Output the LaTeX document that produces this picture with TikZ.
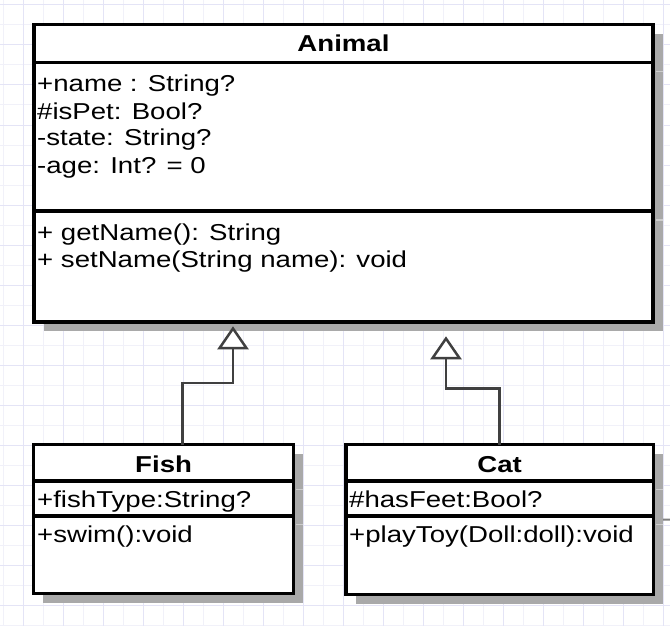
\documentclass[tikz,border=0pt]{standalone}
\usepackage{fontspec}
\setmainfont{Liberation Sans}[FakeStretch=1.2]
\usetikzlibrary{arrows.meta,shadows,calc}
\definecolor{gridminor}{HTML}{F1F1F9}
\definecolor{gridmajor}{HTML}{E4E4F6}
\definecolor{shadowgray}{HTML}{A9A9A9}
\definecolor{shadowline}{HTML}{CDCDCD}
\definecolor{conngray}{HTML}{404040}
\pgfdeclarelayer{bg}
\pgfsetlayers{bg,main}
\tikzset{
  classbox/.style={draw=black, line width=3.5pt, fill=white, anchor=north west, inner sep=0pt, outer sep=0pt,
    drop shadow={shadow xshift=9.5pt, shadow yshift=-9.5pt, fill=shadowgray, opacity=1}},
  sepline/.style={draw=black, line width=3.5pt},
  shline/.style={draw=shadowline, line width=1.5pt},
  txt/.style={anchor=base west, inner sep=0pt, font=\fontsize{23}{27}\selectfont},
  title/.style={anchor=base, inner sep=0pt, font=\fontsize{23}{27}\selectfont\bfseries},
  conn/.style={draw=conngray, line width=2.7pt},
  inherit/.style={conn, -{Triangle[open, fill=white, length=23pt, width=31pt, line width=2.5pt]}},
}
\begin{document}
\begin{tikzpicture}[x=1pt,y=-1pt]
\useasboundingbox (0,0) rectangle (670,626);
% grid
\begin{pgfonlayer}{bg}
\fill[white] (0,0) rectangle (670,626);
\foreach \i in {0,...,33} {
  \pgfmathsetmacro{\gx}{3+20*\i}
  \draw[gridminor, line width=1pt] (\gx,0) -- (\gx,626);
}
\foreach \i in {0,...,31} {
  \pgfmathsetmacro{\gy}{5+20*\i}
  \draw[gridminor, line width=1pt] (0,\gy) -- (670,\gy);
}
\foreach \i in {0,...,16} {
  \pgfmathsetmacro{\gx}{23+40*\i}
  \draw[gridmajor, line width=1pt] (\gx,0) -- (\gx,626);
}
\foreach \i in {0,...,15} {
  \pgfmathsetmacro{\gy}{5+40*\i}
  \draw[gridmajor, line width=1pt] (0,\gy) -- (670,\gy);
}
\end{pgfonlayer}

% Animal
\node[classbox, minimum width=619pt, minimum height=297.5pt] (animal) at (34,24.3) {};
\draw[shline] (655.5,71.5) -- (663,71.5);
\draw[shline] (655.5,220) -- (663,220);
\draw[sepline] (animal.west |- 0,62.5) coordinate (a1) -- (animal.east |- 0,62.5) coordinate (a2);
\draw[sepline] (animal.west |- 0,211) coordinate (a3) -- (animal.east |- 0,211) coordinate (a4);
\node[title] (animaltitle) at (343.5,52) {Animal};
\node[txt] (at1) at (37,92) {+name : String?};
\node[txt] (at2) at (37,119) {\#isPet: Bool?};
\node[txt] (at3) at (37,146) {-state: String?};
\node[txt] (at4) at (37,173) {-age: Int? = 0};
\node[txt] (am1) at (37,240) {+ getName(): String};
\node[txt] (am2) at (37,267) {+ setName(String name): void};

% Fish
\node[classbox, minimum width=259.8pt, minimum height=148.6pt] (fish) at (33.7,444.7) {};
\draw[shline] (295.5,489.5) -- (303,489.5);
\draw[shline] (295.5,524.5) -- (303,524.5);
\draw[sepline] (fish.west |- 0,481) coordinate (f1) -- (fish.east |- 0,481) coordinate (f2);
\draw[sepline] (fish.west |- 0,516) coordinate (f3) -- (fish.east |- 0,516) coordinate (f4);
\node[title] (fishtitle) at (163.6,472) {Fish};
\node[txt] (fa1) at (37,507) {+fishType:String?};
\node[txt] (fm1) at (37,542) {+swim():void};

% Cat
\node[classbox, minimum width=307.3pt, minimum height=149.8pt] (cat) at (346,444.7) {};
\draw[shline] (655.5,489.5) -- (663,489.5);
\draw[shline] (655.5,524.5) -- (663,524.5);
\draw[sepline] (cat.west |- 0,481) coordinate (c1) -- (cat.east |- 0,481) coordinate (c2);
\draw[sepline] (cat.west |- 0,516) coordinate (c3) -- (cat.east |- 0,516) coordinate (c4);
\node[title] (cattitle) at (499.6,472) {Cat};
\node[txt] (ca1) at (349,507) {\#hasFeet:Bool?};
\node[txt] (cm1) at (349,542) {+playToy(Doll:doll):void};

% partial connector leaving Cat to the right
\coordinate (offright) at (670,519.6);
\begin{pgfonlayer}{bg}
\draw[draw=gray, line width=2pt] (cat.east) -- (offright);
\end{pgfonlayer}

% inheritance connectors
\coordinate (fishtip) at ($(animal.south)+(-110.5pt,-4.5pt)$);
\coordinate (cattip) at ($(animal.south)+(102.5pt,-14.5pt)$);
\draw[inherit] ([xshift=19pt]fish.north) -- ++(0,-61.7) -| (fishtip);
\draw[inherit] (cat.north) -- ++(0,-56) -| (cattip);
\end{tikzpicture}
\end{document}
